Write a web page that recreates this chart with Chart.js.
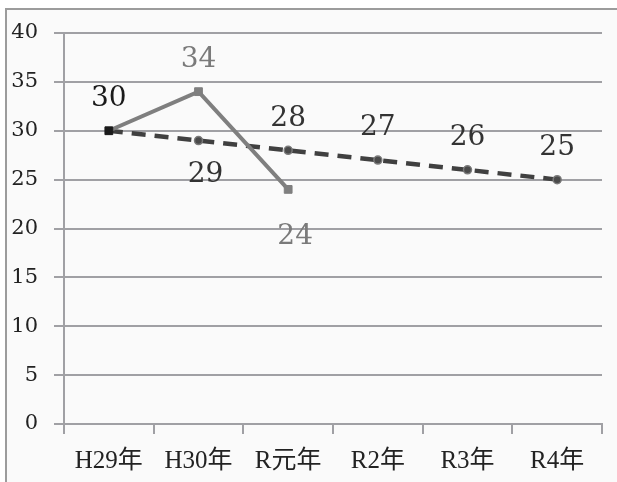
<!DOCTYPE html>
<html>
<head>
<meta charset="utf-8">
<script src="https://cdn.jsdelivr.net/npm/chart.js@4.4.0/dist/chart.umd.min.js"></script>
<style>
  html, body { margin: 0; padding: 0; background: #fff; }
  #frame {
    position: absolute; left: 5px; top: 8px; width: 640px; height: 500px;
    border-left: 2px solid #9c9c9c; border-top: 2px solid #9c9c9c;
    background: #fafafa;
  }
  #wrap { position: absolute; left: 0; top: 0; width: 617px; height: 482px; }
</style>
</head>
<body>
<div id="frame"></div>
<div id="wrap"><canvas id="myChart" width="617" height="482"></canvas></div>
<script>
const years = ['H29年', 'H30年', 'R元年', 'R2年', 'R3年', 'R4年'];
const actual = [30, 34, 24, null, null, null];
const target = [30, 29, 28, 27, 26, 25];
const yTicks = [0, 5, 10, 15, 20, 25, 30, 35, 40];

// where each value label sits relative to its point
const actualLabelPos = [null, 'above', 'below', null, null, null];
const targetLabelPos = ['above', 'below', 'above', 'above', 'above', 'above'];

document.addEventListener('DOMContentLoaded', function() {
    const ctx = document.getElementById('myChart').getContext('2d');

    const valueLabels = {
        id: 'valueLabels',
        afterDatasetsDraw(chart) {
            const c = chart.ctx;
            c.save();
            c.font = '28px "DejaVu Serif", serif';
            c.textAlign = 'center';
            c.textBaseline = 'middle';
            chart.data.datasets.forEach((ds, i) => {
                const meta = chart.getDatasetMeta(i);
                ds.labelPos.forEach((pos, j) => {
                    if (!pos || ds.data[j] == null) return;
                    const pt = meta.data[j];
                    const dy = pos === 'above' ? -32 : (i === 0 ? 47 : 34);
                    const dx = pos === 'below' ? 7 : 0;
                    c.fillStyle = (i === 1 && j === 0) ? '#1a1a1a' : ds.labelColor;
                    c.fillText(String(ds.data[j]), pt.x + dx, pt.y + dy);
                });
            });
            c.restore();
        }
    };

    const data = {
        labels: years,
        datasets: [{
            label: '実績',
            data: actual,
            borderColor: '#7f7f7f',
            borderWidth: 4,
            pointStyle: 'rect',
            pointRadius: 5.5,
            pointBackgroundColor: ['#1a1a1a', '#7f7f7f', '#7f7f7f'],
            pointBorderColor: ['#1a1a1a', '#7f7f7f', '#7f7f7f'],
            pointBorderWidth: 1,
            labelPos: actualLabelPos,
            labelColor: '#7a7a7a',
            spanGaps: false
        }, {
            label: '目標',
            data: target,
            borderColor: '#404040',
            borderWidth: 4.5,
            borderDash: [14, 9],
            pointStyle: 'circle',
            pointRadius: [0, 4, 4, 4, 4, 4],
            pointBackgroundColor: '#4a4a4a',
            pointBorderColor: '#7a7a7a',
            pointBorderWidth: 1.5,
            labelPos: targetLabelPos,
            labelColor: '#333333'
        }]
    };

    const config = {
        type: 'line',
        data: data,
        options: {
            responsive: false,
            animation: false,
            layout: { padding: { top: 33, right: 15, left: 0, bottom: 0 } },
            plugins: {
                legend: { display: false },
                tooltip: { enabled: false }
            },
            scales: {
                x: {
                    offset: true,
                    afterFit: (scale) => { scale.height = 58; },
                    grid: {
                        offset: true,
                        drawOnChartArea: false,
                        drawTicks: true,
                        tickLength: 10,
                        color: '#a0a0a4',
                        lineWidth: 2
                    },
                    border: { color: '#a0a0a4', width: 2 },
                    ticks: {
                        color: '#222',
                        padding: 12,
                        maxRotation: 0,
                        font: { family: '"Liberation Serif", "Noto Sans CJK JP", serif', size: 25 }
                    }
                },
                y: {
                    min: 0,
                    max: 40,
                    afterFit: (scale) => { scale.width = 64; },
                    afterBuildTicks: (scale) => { scale.ticks = yTicks.map(v => ({ value: v })); },
                    grid: {
                        color: '#a0a0a4',
                        lineWidth: 2,
                        drawTicks: true,
                        tickLength: 10
                    },
                    border: { color: '#a0a0a4', width: 2 },
                    ticks: {
                        color: '#222',
                        padding: 16,
                        font: { family: '"DejaVu Serif", serif', size: 21 }
                    }
                }
            }
        },
        plugins: [valueLabels]
    };

    new Chart(ctx, config);
});
</script>
</body>
</html>
